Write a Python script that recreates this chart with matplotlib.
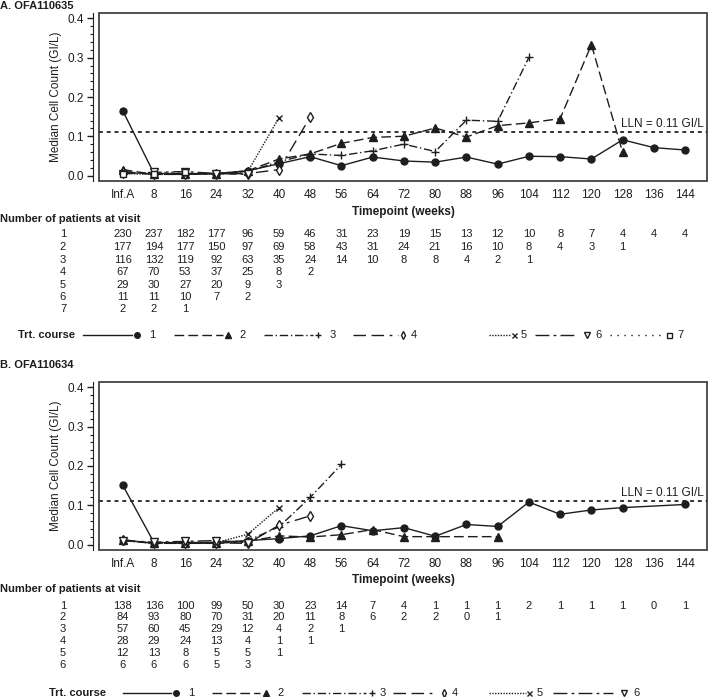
import numpy as np
import matplotlib
matplotlib.use("Agg")
import matplotlib.pyplot as plt
from matplotlib.lines import Line2D
from matplotlib.patches import Rectangle
from matplotlib.ticker import MultipleLocator
from matplotlib.transforms import blended_transform_factory

plt.rcParams["font.family"] = ["Liberation Sans", "DejaVu Sans"]

timepoints = ["Inf.A"] + [str(w) for w in range(8, 145, 8)]
lln = 0.11

# Panel A: OFA110635 - median cell count per treatment course
a_values = {
    1: [0.165, 0.005, 0.005, 0.005, 0.012, 0.030, 0.048, 0.025, 0.047, 0.037,
        0.034, 0.047, 0.029, 0.049, 0.048, 0.042, 0.091, 0.071, 0.065],
    2: [0.015, 0.003, 0.003, 0.005, 0.012, 0.042, 0.055, 0.082, 0.097, 0.100,
        0.121, 0.098, 0.127, 0.134, 0.145, 0.333, 0.059],
    3: [0.010, 0.003, 0.003, 0.005, 0.010, 0.035, 0.055, 0.051, 0.063, 0.080,
        0.061, 0.141, 0.138, 0.301],
    4: [0.010, 0.003, 0.003, 0.004, 0.005, 0.015, 0.149],
    5: [0.005, 0.003, 0.003, 0.004, 0.010, 0.147],
    6: [0.005, 0.008, 0.010, 0.005, 0.003],
    7: [0.005, 0.005, 0.010],
}
a_counts = {
    1: [230, 237, 182, 177, 96, 59, 46, 31, 23, 19, 15, 13, 12, 10, 8, 7, 4, 4, 4],
    2: [177, 194, 177, 150, 97, 69, 58, 43, 31, 24, 21, 16, 10, 8, 4, 3, 1],
    3: [116, 132, 119, 92, 63, 35, 24, 14, 10, 8, 8, 4, 2, 1],
    4: [67, 70, 53, 37, 25, 8, 2],
    5: [29, 30, 27, 20, 9, 3],
    6: [11, 11, 10, 7, 2],
    7: [2, 2, 1],
}

# Panel B: OFA110634
b_values = {
    1: [0.151, 0.005, 0.005, 0.005, 0.010, 0.015, 0.022, 0.048, 0.035, 0.043,
        0.021, 0.051, 0.046, 0.108, 0.077, 0.088, 0.094, None, 0.102],
    2: [0.012, 0.003, 0.003, 0.003, 0.008, 0.022, 0.019, 0.025, 0.038, 0.020,
        0.020, None, 0.020],
    3: [0.010, 0.003, 0.003, 0.004, 0.010, 0.045, 0.120, 0.204],
    4: [0.012, 0.003, 0.004, 0.004, 0.003, 0.049, 0.073],
    5: [0.010, 0.003, 0.005, 0.005, 0.026, 0.094],
    6: [0.010, 0.006, 0.008, 0.010, 0.005],
}
b_counts = {
    1: [138, 136, 100, 99, 50, 30, 23, 14, 7, 4, 1, 1, 1, 2, 1, 1, 1, 0, 1],
    2: [84, 93, 80, 70, 31, 20, 11, 8, 6, 2, 2, 0, 1],
    3: [57, 60, 45, 29, 12, 4, 2, 1],
    4: [28, 29, 24, 13, 4, 1, 1],
    5: [12, 13, 8, 5, 5, 1],
    6: [6, 6, 6, 5, 3],
}

ink = "#1e1e1e"
styles = {
    1: dict(ls="-", marker="o", ms=5, mfc=ink),
    2: dict(ls=(0, (7, 3)), marker="^", ms=6, mfc=ink),
    3: dict(ls=(0, (6, 2, 1, 2)), marker="+", ms=6, mfc=ink),
    4: dict(ls=(0, (9, 4, 9, 4, 2, 4)), marker="d", ms=5, mfc="white"),
    5: dict(ls=(0, (1, 1)), marker="x", ms=4.5, mfc=ink),
    6: dict(ls=(0, (10, 3, 2, 3)), marker="v", ms=6, mfc="white"),
    7: dict(ls=(0, (1, 4)), marker="s", ms=4.5, mfc="white"),
}

W, H = 708, 697
fig = plt.figure(figsize=(W / 100, H / 100), dpi=100)


def px(x, y):
    return x / W, 1 - y / H


def draw_panel(title, values, counts, top, title_y, table_y, rows_y, legend_y,
               legend_x):
    ax = fig.add_axes([99 / W, 1 - (top + 168) / H, 608 / W, 168 / H])
    x = np.arange(len(timepoints))
    for c, vals in values.items():
        xs = [i for i, v in enumerate(vals) if v is not None]
        ys = [v for v in vals if v is not None]
        st = styles[c]
        ax.plot(xs, ys, linestyle=st["ls"], marker=st["marker"], ms=st["ms"],
                color=ink, mfc=st["mfc"], mec=ink, lw=1.0, mew=1.0, zorder=3)
    ax.axhline(lln, color="#333333", lw=1.4, ls=(0, (2, 2)), zorder=2)
    ax.text(18.6, lln + 0.006, "LLN = 0.11 GI/L", ha="right", va="bottom",
            fontsize=8.5, color=ink)
    ax.set_xlim(-0.76, 18.7)
    ax.set_ylim(-0.014, 0.414)
    ax.set_xticks(x)
    ax.set_xticklabels(timepoints)
    ax.set_yticks([0.0, 0.1, 0.2, 0.3, 0.4])
    ax.set_yticklabels(["0.0", "0.1", "0.2", "0.3", "0.4"])
    ax.yaxis.set_minor_locator(MultipleLocator(0.02))
    ax.tick_params(axis="x", length=0, pad=6, labelsize=8.5, colors=ink)
    ax.tick_params(axis="y", which="major", length=4, width=1, labelsize=8.5,
                   colors=ink, pad=3)
    ax.tick_params(axis="y", which="minor", length=2, width=0.8, colors=ink)
    for s in ["top", "right", "bottom"]:
        ax.spines[s].set_visible(False)
    ax.spines["left"].set_position(("outward", 4))
    ax.spines["left"].set_color(ink)
    ax.add_patch(Rectangle((0, 0), 1, 1, transform=ax.transAxes, fill=False,
                           lw=1.2, ec="#333333", zorder=5, clip_on=False))
    ax.set_ylabel("Median Cell Count (GI/L)", fontsize=8.5, color=ink,
                  labelpad=4)
    ax.set_xlabel("Timepoint (weeks)", fontsize=8.5, fontweight="bold",
                  color=ink, labelpad=3)

    fig.text(*px(0, title_y), title, fontsize=8, fontweight="bold",
             va="center", ha="left", color=ink)
    fig.text(*px(0, table_y), "Number of patients at visit", fontsize=8,
             fontweight="bold", va="center", ha="left", color=ink)
    tr = blended_transform_factory(ax.transData, fig.transFigure)
    for c, ry in zip(counts, rows_y):
        fig.text(*px(63, ry), str(c), fontsize=8, ha="center", va="center",
                 color=ink)
        for i, n in enumerate(counts[c]):
            fig.text(i, 1 - ry / H, str(n), transform=tr, fontsize=8,
                     ha="center", va="center", color=ink)

    # legend row
    lx0, items = legend_x
    fig.text(*px(lx0, legend_y), "Trt. course", fontsize=8, fontweight="bold",
             va="center", ha="left", color=ink)
    for c, (x1, x2, xm, xl) in zip(values, items):
        st = styles[c]
        fy = 1 - legend_y / H
        fig.add_artist(Line2D([x1 / W, x2 / W], [fy, fy], ls=st["ls"],
                              color=ink, lw=1.0, transform=fig.transFigure))
        fig.add_artist(Line2D([xm / W], [fy], marker=st["marker"],
                              ms=st["ms"] * 0.8, color=ink, mfc=st["mfc"],
                              mec=ink, mew=1.0, transform=fig.transFigure))
        fig.text(*px(xl, legend_y), str(c), fontsize=8, va="center",
                 ha="center", color=ink)
    return ax


legend_a = (18, [(83, 132, 137, 152), (174, 223, 228, 243), (264, 313, 318, 333),
                 (353, 398, 403, 414), (489, 511, 514, 524), (535, 578, 587, 598),
                 (610, 662, 669, 680)])
legend_b = (49, [(123, 171, 176, 191), (212, 260, 266, 281), (302, 366, 372, 383),
                 (393, 437, 444, 455), (489, 526, 529, 540), (553, 613, 624, 637)])

draw_panel("A. OFA110635", a_values, a_counts, 13, 6, 219,
           [234, 247, 260, 272, 285, 297, 309], 335, legend_a)
draw_panel("B. OFA110634", b_values, b_counts, 382, 365, 589,
           [606, 617, 629, 641, 653, 665], 693, legend_b)

fig.savefig("out.png", dpi=100)
